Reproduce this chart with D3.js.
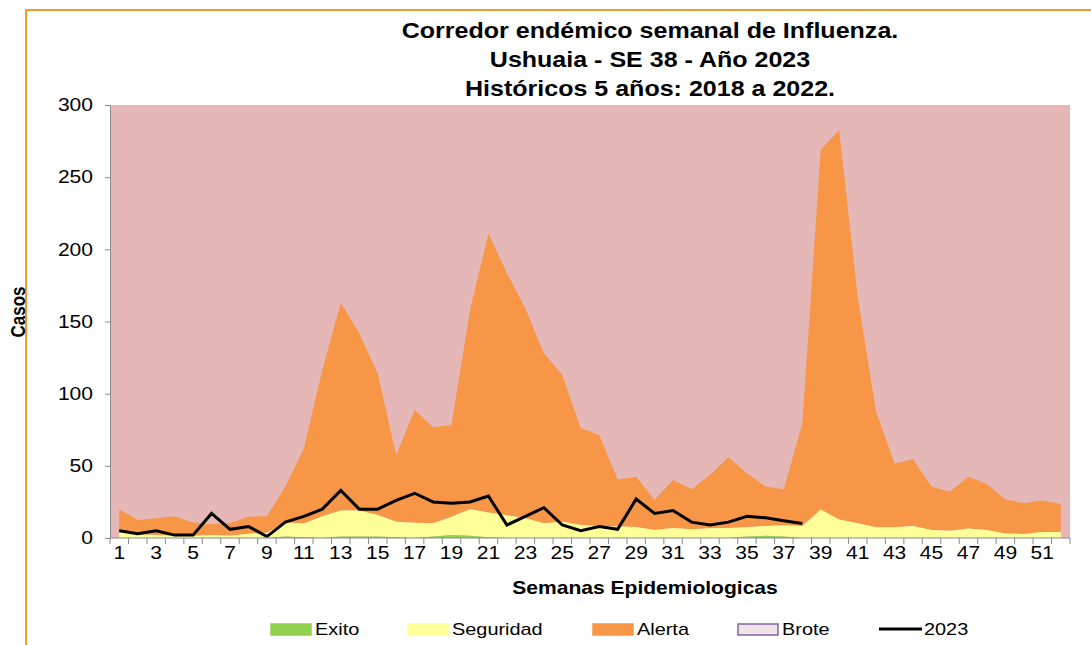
<!DOCTYPE html>
<html>
<head>
<meta charset="utf-8">
<script src="https://cdn.jsdelivr.net/npm/d3@7"></script>
<style>
  html, body { margin: 0; padding: 0; background: #fff; }
  svg { display: block; font-family: 'Liberation Sans', Arial, sans-serif; }
</style>
</head>
<body>
<div id="chart"></div>
<script>
// --- data ---
const weeks = d3.range(1, 53);
const tickWeeks = d3.range(1, 53, 2);
const yTicks = [0, 50, 100, 150, 200, 250, 300];

// upper limit of each zone (cumulative levels)
const exito = [0, 0, 0, 0, 0, 0, 0, 0, 0, 1, 0.5, 0, 1, 1, 1, 0.5, 0, 1, 2, 1.5,
  0.5, 0, 0, 0, 0, 0, 0, 0, 0, 0, 0, 0, 0, 0, 1, 1.5, 1, 0, 0, 0,
  0, 0, 0, 0, 0, 0, 0, 0, 0, 0, 0, 0];
const seguridad = [4.4, 2.5, 2, 1.6, 1.5, 2, 1.5, 3, 3.7, 10.8,
  10, 15, 19, 19, 16, 11.3, 10.6, 10.2, 14.8, 19.9,
  17.6, 15.7, 13.6, 10.2, 11.3, 9, 8.3, 8, 7.6, 5.5,
  7, 6, 6.7, 6.9, 7.4, 8.3, 8.8, 8.3, 19.8, 12.9,
  10.2, 7.4, 7.4, 8.3, 5.5, 5.1, 6.5, 5.5, 3.2, 2.8,
  4.2, 4.2];
const alerta = [20, 12.5, 13.6, 15, 10.8, 9.5, 10.2, 14.8, 15, 35.6,
  62, 116.4, 163, 141.8, 114, 57.5, 88.7, 76.7, 78.3, 158,
  211, 183.4, 159, 128, 112.9, 76, 71.4, 40.6, 42.5, 26.3,
  40.2, 33.7, 43.6, 55.9, 44.8, 35.6, 33.7, 79.5, 268.8, 282.7,
  167.2, 87.5, 51.7, 54.5, 35.6, 32.1, 42.5, 37.4, 26.8, 24,
  25.9, 23.6];
const casos2023 = [5, 3, 5, 2, 2, 17, 6, 8, 1, 11, 15, 20, 33, 20, 20, 26, 31, 25, 24, 25,
  29, 9, 15, 21, 9, 5, 8, 6, 27, 17, 19, 11, 9, 11, 15, 14, 12, 10];

const titleLines = ['Corredor endémico semanal de Influenza.', 'Ushuaia - SE 38 - Año 2023', 'Históricos 5 años: 2018 a 2022.'];
const legendItems = [
  { name: 'Exito', type: 'box', fill: '#92D050', stroke: '#92D050' },
  { name: 'Seguridad', type: 'box', fill: '#FFFF99', stroke: '#FFFF99' },
  { name: 'Alerta', type: 'box', fill: '#F79646', stroke: '#F79646' },
  { name: 'Brote', type: 'box', fill: '#F2E4E6', stroke: '#8064A2' },
  { name: '2023', type: 'line' }
];

const W = 1091, H = 645;
const plot = { left: 110, right: 1070, top: 105, bottom: 538 };
const SX = 1.17; // text in the reference is stretched sideways

const svg = d3.select('#chart').append('svg').attr('width', W).attr('height', H);

function label(x, y, s, size, opts = {}) {
  return svg.append('text')
    .attr('transform', `translate(${x},${y}) ${opts.rotate ? 'rotate(-90) scale(1,' + SX + ')' : 'scale(' + SX + ',1)'}`)
    .attr('text-anchor', opts.anchor || 'middle')
    .attr('dominant-baseline', 'central')
    .style('font-size', size + 'px')
    .style('font-weight', opts.bold ? 'bold' : 'normal')
    .style('fill', '#000')
    .text(s);
}

// outer orange frame (top + left edges visible)
svg.append('path').attr('d', `M26,${H} V10 H${W}`).attr('fill', 'none')
  .attr('stroke', '#F79A2E').attr('stroke-width', 2);

// scales
const x = d3.scaleBand().domain(weeks).range([plot.left, plot.right]).paddingInner(0).paddingOuter(0);
const cx = w => x(w) + x.bandwidth() / 2;
const y = d3.scaleLinear().domain([0, 300]).range([plot.bottom, plot.top]);

// Brote zone = plot background
svg.append('rect').attr('x', plot.left).attr('y', plot.top)
  .attr('width', plot.right - plot.left).attr('height', plot.bottom - plot.top)
  .attr('fill', '#E5B8B7');

const zone = (lo, hi) => d3.area()
  .x((d, i) => cx(weeks[i]))
  .y0((d, i) => y(lo ? lo[i] : 0))
  .y1((d, i) => y(hi[i]));

svg.append('path').datum(weeks).attr('d', zone(seguridad, alerta)).attr('fill', '#F79646');
svg.append('path').datum(weeks).attr('d', zone(exito, seguridad)).attr('fill', '#FFFF99');
svg.append('path').datum(weeks).attr('d', zone(null, exito)).attr('fill', '#92D050');

// 2023 line
const line = d3.line().x((d, i) => cx(weeks[i])).y(d => y(d));
svg.append('path').datum(casos2023).attr('d', line)
  .attr('fill', 'none').attr('stroke', '#000').attr('stroke-width', 3).attr('stroke-linejoin', 'miter');

// axes
const yAxis = d3.axisLeft(y).tickValues(yTicks).tickSize(5).tickPadding(12).tickSizeOuter(0);
const gy = svg.append('g').attr('transform', `translate(${plot.left},0)`).call(yAxis);
gy.select('.domain').attr('stroke', '#8a8a8a');
gy.selectAll('.tick line').attr('stroke', '#8a8a8a');
gy.selectAll('.tick text').style('font-size', '18px').attr('fill', '#000')
  .attr('font-family', "'Liberation Sans', Arial, sans-serif")
  .attr('transform', `scale(${SX},1)`).attr('x', -17 / SX);

const gx = svg.append('g').attr('transform', `translate(0,${plot.bottom})`);
gx.append('line').attr('x1', plot.left).attr('x2', plot.right).attr('stroke', '#8a8a8a');
gx.selectAll('.tk').data(d3.range(0, weeks.length + 1)).enter().append('line')
  .attr('x1', i => plot.left + i * x.step()).attr('x2', i => plot.left + i * x.step())
  .attr('y1', 0).attr('y2', 6).attr('stroke', '#8a8a8a');
gx.selectAll('.lb').data(tickWeeks).enter().append('text')
  .attr('transform', d => `translate(${cx(d)},15) scale(${SX},1)`)
  .attr('text-anchor', 'middle').attr('dominant-baseline', 'central')
  .style('font-size', '18px').text(d => d);

// titles
titleLines.forEach((t, i) => label(650, 31 + i * 29, t, 21.4, { bold: true }));
label(18, 312, 'Casos', 17, { bold: true, rotate: true });
label(645, 588, 'Semanas Epidemiologicas', 18, { bold: true });

// legend
const legendX = [270, 407, 592, 737, 879];
const ly = 629;
legendItems.forEach((it, i) => {
  const lx = legendX[i];
  if (it.type === 'box') {
    svg.append('rect').attr('x', lx + 1).attr('y', ly - 5).attr('width', 40).attr('height', 11)
      .attr('fill', it.fill).attr('stroke', it.stroke).attr('stroke-width', 1.5);
  } else {
    svg.append('line').attr('x1', lx).attr('x2', lx + 43).attr('y1', ly).attr('y2', ly)
      .attr('stroke', '#000').attr('stroke-width', 3);
  }
  label(lx + 45, ly, it.name, 17, { anchor: 'start' });
});
</script>
</body>
</html>
